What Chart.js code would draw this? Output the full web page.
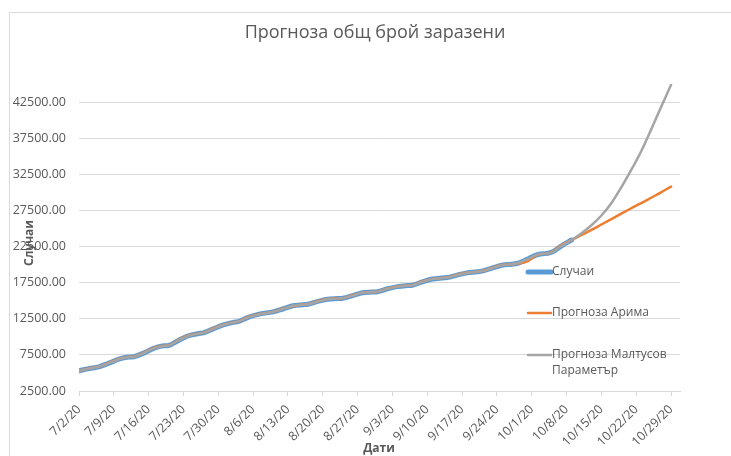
<!DOCTYPE html>
<html>
<head>
<meta charset="utf-8">
<script src="https://cdn.jsdelivr.net/npm/chart.js@4.4.1/dist/chart.umd.min.js"></script>
<style>
  body { margin: 0; background: #fff; }
  canvas { display: block; }
</style>
</head>
<body>
<canvas id="chart" width="731" height="456"></canvas>
<script>
'use strict'

// дати с реални данни
const histDates = [
  '7/2/20', '7/4/20', '7/6/20', '7/8/20', '7/10/20', '7/12/20', '7/13/20', '7/15/20',
  '7/17/20', '7/19/20', '7/20/20', '7/22/20', '7/24/20', '7/26/20', '7/27/20', '7/29/20',
  '7/31/20', '8/2/20', '8/3/20', '8/5/20', '8/7/20', '8/9/20', '8/10/20', '8/12/20',
  '8/14/20', '8/16/20', '8/17/20', '8/19/20', '8/21/20', '8/23/20', '8/24/20', '8/26/20',
  '8/28/20', '8/30/20', '8/31/20', '9/2/20', '9/4/20', '9/6/20', '9/7/20', '9/9/20',
  '9/11/20', '9/13/20', '9/14/20', '9/16/20', '9/18/20', '9/20/20', '9/21/20', '9/23/20',
  '9/25/20', '9/27/20', '9/28/20', '9/30/20', '10/2/20', '10/4/20', '10/5/20', '10/7/20',
  '10/9/20'
];

// случаи
const cases = [
  5300, 5600, 5850, 6350, 6900, 7200, 7250, 7750,
  8400, 8750, 8800, 9500, 10150, 10450, 10550, 11100,
  11650, 12000, 12100, 12700, 13100, 13350, 13450, 13850,
  14300, 14450, 14500, 14900, 15200, 15300, 15350, 15700,
  16100, 16200, 16250, 16650, 16950, 17100, 17150, 17600,
  18000, 18150, 18200, 18550, 18850, 19000, 19100, 19500,
  19900, 20050, 20150, 20700, 21350, 21550, 21700, 22600,
  23400
];

// арима - напасване
const arimaFit = [
  5300, 5620, 5870, 6400, 6950, 7220, 7260, 7800,
  8450, 8760, 8800, 9580, 10200, 10460, 10560, 11150,
  11680, 12010, 12100, 12750, 13120, 13350, 13450, 13900,
  14250, 14480, 14510, 14950, 15250, 15320, 15350, 15750,
  16120, 16200, 16250, 16700, 16980, 17100, 17150, 17650,
  18020, 18150, 18200, 18600, 18880, 19000, 19100, 19550,
  19930, 20050, 20150, 20400, 21300, 21550, 21700, 22700,
  23400
];

// малтус - напасване
const malthusFit = [
  5300, 5600, 5850, 6350, 6890, 7200, 7250, 7750,
  8400, 8740, 8800, 9500, 10140, 10450, 10550, 11100,
  11640, 12000, 12100, 12700, 13100, 13340, 13450, 13850,
  14300, 14450, 14500, 14900, 15200, 15300, 15350, 15700,
  16100, 16200, 16250, 16650, 16950, 17100, 17150, 17600,
  18000, 18150, 18200, 18550, 18850, 19000, 19100, 19500,
  19900, 20050, 20150, 20700, 21350, 21550, 21700, 22600,
  23400
];

// прогнозни дати
const fcDates = ['10/11/20', '10/13/20', '10/15/20', '10/17/20', '10/19/20', '10/21/20', '10/23/20', '10/25/20', '10/27/20', '10/29/20'];
const arimaFc = [24100, 24800, 25550, 26300, 27050, 27800, 28500, 29250, 30000, 30800];
const malthusFc = [24350, 25450, 26800, 28500, 30700, 33100, 35700, 38700, 41800, 44900];

// етикети на осите
const xTickLabels = ['7/2/20', '7/9/20', '7/16/20', '7/23/20', '7/30/20', '8/6/20', '8/13/20', '8/20/20', '8/27/20', '9/3/20', '9/10/20', '9/17/20', '9/24/20', '10/1/20', '10/8/20', '10/15/20', '10/22/20', '10/29/20'];
const yTicks = [2500, 7500, 12500, 17500, 22500, 27500, 32500, 37500, 42500];

const seriesNames = ['Случаи', 'Прогноза Арима', 'Прогноза Малтусов Параметър'];
const seriesColors = ['#5B9BD5', '#ED7D31', '#A5A5A5'];

//ден от началото (7/2/20)
function dayOf( str )
{
  let p = str.split( '/' );
  let t = Date.UTC( 2000 + Number( p[2] ), Number( p[0] ) - 1, Number( p[1] ) );
  return Math.round( ( t - Date.UTC( 2020, 6, 2 ) ) / 86400000 );
}

function points( dates, values )
{
  return dates.map( ( d, i ) => ( { x: dayOf( d ), y: values[i] } ) );
}

const tickDays = xTickLabels.map( dayOf );
const textColor = '#595959';
const gridColor = '#D9D9D9';

//заглавие, легенда и рамка
const decoPlugin =
{
  id: 'deco',
  beforeDraw( chart )
  {
    let ctx = chart.ctx;
    ctx.save( );
    ctx.fillStyle = '#fff';
    ctx.fillRect( 0, 0, chart.width, chart.height );
    ctx.strokeStyle = gridColor;
    ctx.lineWidth = 1;
    ctx.strokeRect( 9.5, 12.5, 800, 500 );
    ctx.restore( );
  },
  afterDraw( chart )
  {
    let ctx = chart.ctx;
    ctx.save( );
    ctx.fillStyle = textColor;
    ctx.textBaseline = 'middle';

    //заглавие
    ctx.textAlign = 'center';
    ctx.font = '18px "Open Sans"';
    ctx.fillText( 'Прогноза общ брой заразени', 375, 33 );

    //заглавия на осите
    ctx.font = 'bold 12px "Open Sans"';
    ctx.fillText( 'Дати', 379, 449 );
    ctx.save( );
    ctx.translate( 30, 243 );
    ctx.rotate( -Math.PI / 2 );
    ctx.fillText( 'Случаи', 0, 0 );
    ctx.restore( );

    //легенда
    ctx.textAlign = 'left';
    ctx.font = '12px "Open Sans"';
    let rows = [ 272, 313, 355 ];
    let widths = [ 5, 2.5, 2.5 ];
    rows.forEach( ( y, i ) =>
    {
      ctx.strokeStyle = seriesColors[i];
      ctx.lineWidth = widths[i];
      ctx.lineCap = 'round';
      ctx.beginPath( );
      ctx.moveTo( 528, y );
      ctx.lineTo( 551, y );
      ctx.stroke( );
    });
    ctx.fillText( 'Случаи', 552, 272 );
    ctx.fillText( 'Прогноза Арима', 552, 313 );
    ctx.fillText( 'Прогноза Малтусов', 552, 355 );
    ctx.fillText( 'Параметър', 552, 371 );
    ctx.restore( );
  }
};

const ctx = document.getElementById( 'chart' ).getContext( '2d' );

new Chart( ctx,
{
  type: 'line',
  data:
  {
    datasets:
    [
      {
        label: seriesNames[0],
        data: points( histDates, cases ),
        borderColor: seriesColors[0],
        borderWidth: 5,
        order: 3
      },
      {
        label: seriesNames[1],
        data: points( histDates.concat( fcDates ), arimaFit.concat( arimaFc ) ),
        borderColor: seriesColors[1],
        borderWidth: 2.5,
        order: 2
      },
      {
        label: seriesNames[2],
        data: points( histDates.concat( fcDates ), malthusFit.concat( malthusFc ) ),
        borderColor: seriesColors[2],
        borderWidth: 2.5,
        order: 1
      }
    ]
  },
  options:
  {
    responsive: false,
    animation: false,
    devicePixelRatio: 1,
    layout: { padding: { top: 84, right: 51, left: 0, bottom: 0 } },
    elements:
    {
      point: { radius: 0 },
      line: { tension: 0.4, cubicInterpolationMode: 'monotone', fill: false, borderCapStyle: 'round', borderJoinStyle: 'round' }
    },
    plugins:
    {
      legend: { display: false },
      title: { display: false },
      tooltip: { enabled: false }
    },
    scales:
    {
      x:
      {
        type: 'linear',
        min: 0,
        max: 120.8,
        afterBuildTicks: scale => { scale.ticks = tickDays.map( v => ( { value: v } ) ); },
        afterFit: scale => { scale.height = 65; },
        grid: { drawOnChartArea: false, drawTicks: true, tickLength: 5, color: gridColor },
        border: { display: true, color: gridColor },
        ticks:
        {
          autoSkip: false,
          maxRotation: 45,
          minRotation: 45,
          padding: 6,
          color: textColor,
          font: { family: 'Open Sans', size: 12.5 },
          callback: v => xTickLabels[ tickDays.indexOf( v ) ] || ''
        }
      },
      y:
      {
        min: 2500,
        max: 45000,
        afterBuildTicks: scale => { scale.ticks = yTicks.map( v => ( { value: v } ) ); },
        afterFit: scale => { scale.width = 79; },
        grid: { drawTicks: false, color: gridColor },
        border: { display: false },
        ticks:
        {
          padding: 13,
          color: textColor,
          font: { family: 'Open Sans', size: 12.5 },
          callback: v => Number( v ).toFixed( 2 )
        }
      }
    }
  },
  plugins: [ decoPlugin ]
});
</script>
</body>
</html>
